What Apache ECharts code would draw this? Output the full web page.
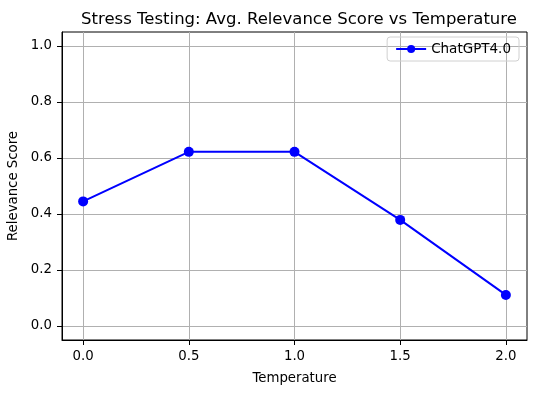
<!DOCTYPE html>
<html>
<head>
<meta charset="utf-8">
<script src="https://cdn.jsdelivr.net/npm/echarts@6/dist/echarts.min.js"></script>
<style>html,body{margin:0;padding:0;background:#fff}#c{width:536px;height:393px}</style>
</head>
<body>
<div id="c"></div>
<script>
const temperatures = [0.0, 0.5, 1.0, 1.5, 2.0];
const relevance = [0.445, 0.622, 0.622, 0.379, 0.111];
const xTicks = [0.0, 0.5, 1.0, 1.5, 2.0];
const yTicks = [0.0, 0.2, 0.4, 0.6, 0.8, 1.0];
const seriesName = 'ChatGPT4.0';

const chart = echarts.init(document.getElementById('c'), null, {renderer: 'canvas'});
const font = 'DejaVu Sans';
chart.setOption({
  animation: false,
  backgroundColor: '#fff',
  textStyle: {fontFamily: font},
  title: {
    text: 'Stress Testing: Avg. Relevance Score vs Temperature',
    left: 294, top: 6, textAlign: 'center',
    textStyle: {fontFamily: font, fontSize: 16.5, fontWeight: 'normal', color: '#000'}
  },
  legend: {
    data: [{name: seriesName}],
    right: 17, top: 37,
    itemWidth: 30, itemHeight: 10, itemGap: 8,
    padding: [5, 8, 5, 8],
    borderColor: '#d0d0d0', borderWidth: 1, borderRadius: 3,
    textStyle: {fontFamily: font, fontSize: 13.5, color: '#000'}
  },
  grid: {
    left: 62, right: 9, top: 32, bottom: 53,
    outerBoundsMode: 'none', containLabel: false,
    show: true, borderColor: '#000', borderWidth: 1, backgroundColor: 'transparent'
  },
  xAxis: {
    type: 'value', min: -0.1, max: 2.1,
    name: 'Temperature', nameLocation: 'middle', nameGap: 32,
    nameTextStyle: {fontFamily: font, fontSize: 13.3, color: '#000'},
    axisLine: {show: true, onZero: false, lineStyle: {color: '#000', width: 1}},
    axisTick: {show: true, length: 5, customValues: xTicks, lineStyle: {color: '#000', width: 1}},
    axisLabel: {customValues: xTicks, margin: 10, fontFamily: font, fontSize: 13.3, color: '#000',
      formatter: v => v.toFixed(1)},
    splitLine: {show: true, lineStyle: {color: '#b0b0b0', width: 1}}
  },
  yAxis: {
    type: 'value', min: -0.05, max: 1.05,
    name: 'Relevance Score', nameLocation: 'middle', nameGap: 40, nameRotate: 90,
    nameTextStyle: {fontFamily: font, fontSize: 13.3, color: '#000'},
    axisLine: {show: true, onZero: false, lineStyle: {color: '#000', width: 1}},
    axisTick: {show: true, length: 5, customValues: yTicks, lineStyle: {color: '#000', width: 1}},
    axisLabel: {customValues: yTicks, margin: 10, fontFamily: font, fontSize: 13.3, color: '#000',
      formatter: v => v.toFixed(1)},
    splitLine: {show: true, lineStyle: {color: '#b0b0b0', width: 1}}
  },
  series: [{
    name: seriesName, type: 'line',
    data: temperatures.map((t, i) => [t, relevance[i]]),
    symbol: 'circle', symbolSize: 10,
    itemStyle: {color: '#0000ff'},
    lineStyle: {color: '#0000ff', width: 2}
  }]
});
</script>
</body>
</html>
